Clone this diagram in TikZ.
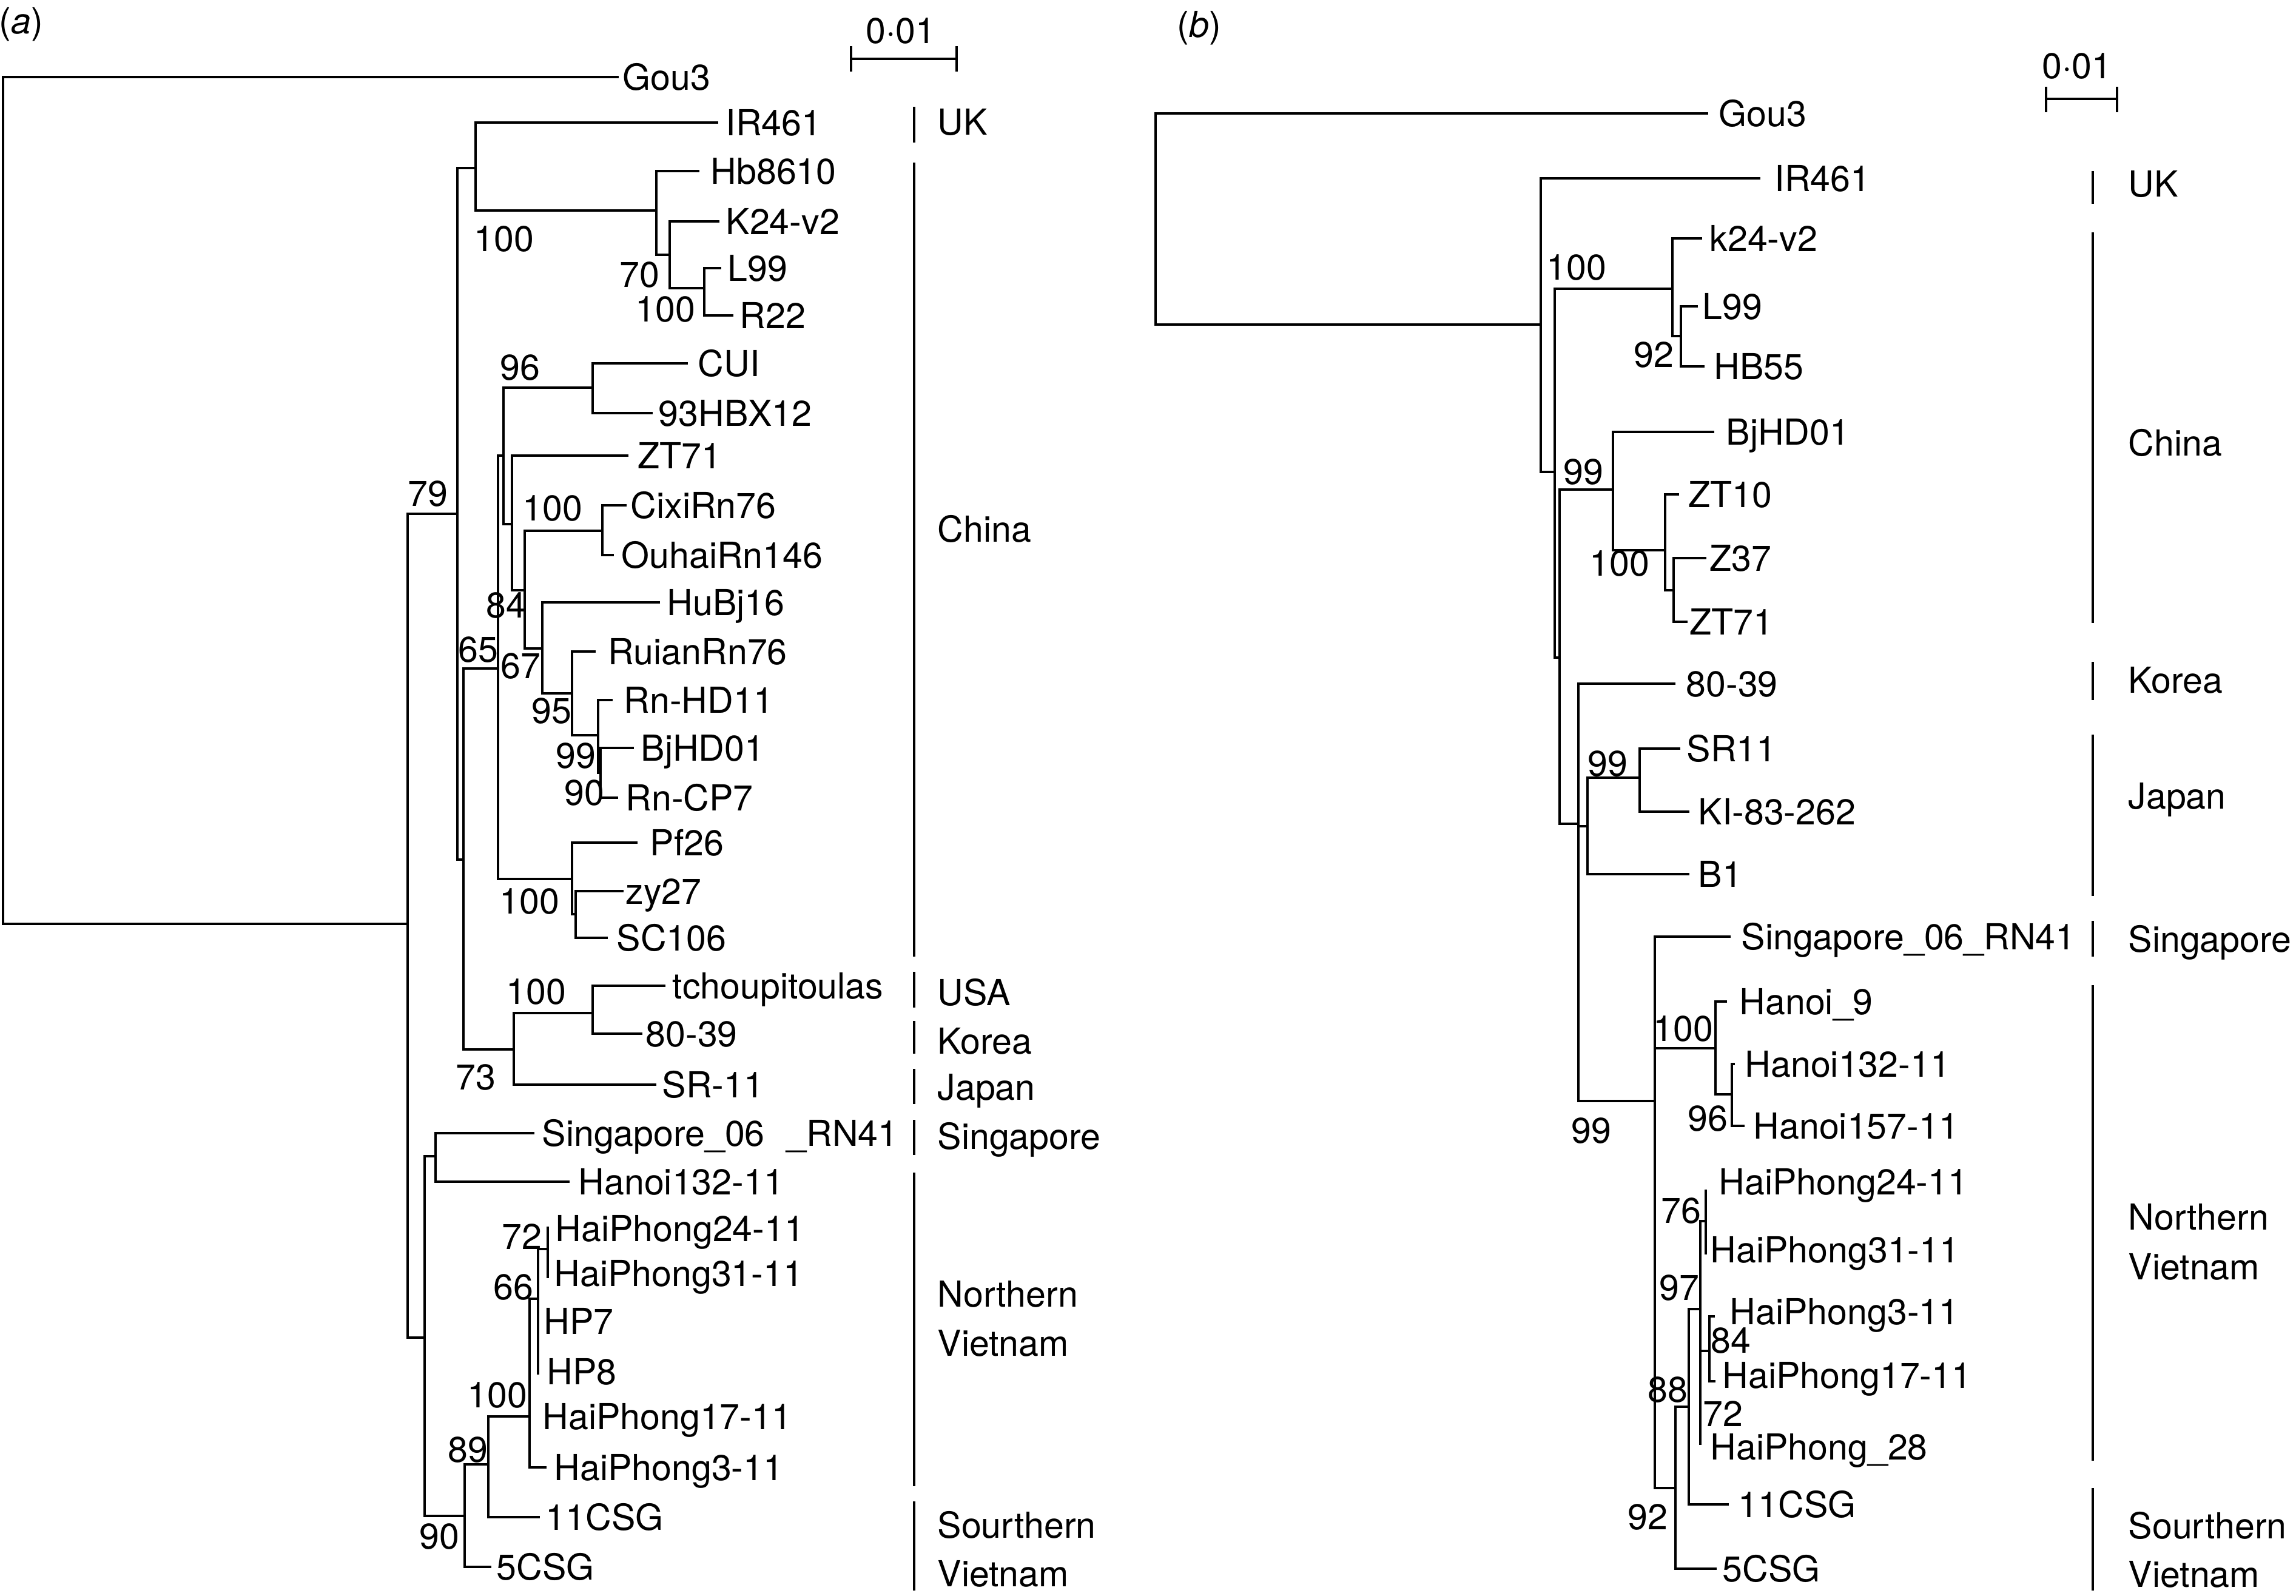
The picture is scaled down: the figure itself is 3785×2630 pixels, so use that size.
\documentclass[tikz,border=0pt]{standalone}
\usepackage{fontspec}
\setmainfont{TeX Gyre Heros}
\usepackage{tikz}

\begin{document}
\begin{tikzpicture}[x=0.01cm,y=-0.01cm,
    every node/.style={font=\fontsize{16.8}{20}\selectfont},
    br/.style={line width=1pt},
    bar/.style={line width=1.2pt},
    leaf/.style={anchor=base west,inner sep=0pt,yshift=-0.21cm},
    boot/.style={anchor=base,inner sep=0pt,yshift=-0.21cm}]
    \useasboundingbox (0,0) rectangle (3785,2630);
    \node[inner sep=0pt] (atitle) at (35,40) {(\textit{a})};
    \node[inner sep=0pt] (btitle) at (1977,46) {(\textit{b})};
    \draw[br] (1020,127) -| (5,1523) -- (672,1523);
    \draw[br] (754,847) -| (672,2205) -- (700,2205);
    \draw[br] (784,277) -| (754,1417) -- (764,1417);
    \draw[br] (1184,202) -| (784,347) -- (1082,347);
    \draw[br] (1153,282) -| (1082,420) -- (1104,420);
    \draw[br] (1186,365) -| (1104,475) -- (1161,475);
    \draw[br] (1189,442) -| (1161,520) -- (1209,520);
    \draw[br] (821,1102) -| (764,1730) -- (847,1730);
    \draw[br] (830,751) -| (821,1449) -- (943,1449);
    \draw[br] (977,639) -| (830,864) -- (844,864);
    \draw[br] (1134,599) -| (977,681) -- (1076,681);
    \draw[br] (1036,751) -| (844,973) -- (865,973);
    \draw[br] (993,875) -| (865,1069) -- (894,1069);
    \draw[br] (1033,833) -| (993,915) -- (1012,915);
    \draw[br] (1088,993) -| (894,1143) -- (943,1143);
    \draw[br] (982,1074) -| (943,1212) -- (986,1212);
    \draw[br] (1010,1154) -| (986,1274) -- (990,1274);
    \draw[br] (1045,1233) -| (990,1315) -- (1019,1315);
    \draw[br] (1051,1389) -| (943,1507) -- (949,1507);
    \draw[br] (1028,1469) -| (949,1546) -- (1002,1546);
    \draw[br] (977,1670) -| (847,1788) -- (1082,1788);
    \draw[br] (1097,1625) -| (977,1704) -- (1059,1704);
    \draw[br] (718,1906) -| (700,2499) -- (766,2499);
    \draw[br] (881,1868) -| (718,1948) -- (939,1948);
    \draw[br] (805,2414) -| (766,2583) -- (810,2583);
    \draw[br] (873,2335) -| (805,2501) -- (890,2501);
    \draw[br] (887,2141) -| (873,2419) -- (901,2419);
    \draw[br] (903,2059) -| (887,2266);
    \draw[br] (903,2022) -- (903,2107);
    \node[leaf] (aGou) at (1026,127) {Gou3};
    \node[leaf] (aIR) at (1196,202) {IR461};
    \node[leaf] (aHb) at (1171,282) {Hb8610};
    \node[leaf] (aK24) at (1196,365) {K24-v2};
    \node[leaf] (aL99) at (1199,442) {L99};
    \node[leaf] (aR22) at (1219,520) {R22};
    \node[leaf] (aCUI) at (1150,599) {CUI};
    \node[leaf] (aHBX) at (1085,681) {93HBX12};
    \node[leaf] (aZT) at (1051,751) {ZT71};
    \node[leaf] (aCixi) at (1039,833) {CixiRn76};
    \node[leaf] (aOuhai) at (1024,915) {OuhaiRn146};
    \node[leaf] (aHuBj) at (1099,993) {HuBj16};
    \node[leaf] (aRuian) at (1002,1074) {RuianRn76};
    \node[leaf] (aRnHD) at (1028,1154) {Rn-HD11};
    \node[leaf] (aBjHD) at (1056,1233) {BjHD01};
    \node[leaf] (aRnCP) at (1031,1315) {Rn-CP7};
    \node[leaf] (aPf) at (1071,1389) {Pf26};
    \node[leaf] (azy) at (1031,1469) {zy27};
    \node[leaf] (aSC) at (1016,1546) {SC106};
    \node[leaf] (atch) at (1108,1625) {tchoupitoulas};
    \node[leaf] (a8039) at (1064,1704) {80-39};
    \node[leaf] (aSR) at (1091,1788) {SR-11};
    \node[leaf] (aSing) at (893,1868) {Singapore\_06\hspace{0.36cm}\_RN41};
    \node[leaf] (aHanoi) at (953,1948) {Hanoi132-11};
    \node[leaf] (aHP24) at (915,2025) {HaiPhong24-11};
    \node[leaf] (aHP31) at (913,2099) {HaiPhong31-11};
    \node[leaf] (aHP7) at (896,2178) {HP7};
    \node[leaf] (aHP8) at (901,2261) {HP8};
    \node[leaf] (aHP17) at (894,2335) {HaiPhong17-11};
    \node[leaf] (aHP3) at (913,2419) {HaiPhong3-11};
    \node[leaf] (a11C) at (899,2501) {11CSG};
    \node[leaf] (a5C) at (818,2583) {5CSG};
    \node[boot] (aba) at (831,393) {100};
    \node[boot] (abb) at (1054,452) {70};
    \node[boot] (abc) at (1097,509) {100};
    \node[boot] (abd) at (857,605) {96};
    \node[boot] (abe) at (705,813) {79};
    \node[boot] (abf) at (911,837) {100};
    \node[boot] (abg) at (834,997) {84};
    \node[boot] (abh) at (788,1070) {65};
    \node[boot] (abi) at (858,1097) {67};
    \node[boot] (abj) at (909,1171) {95};
    \node[boot] (abk) at (949,1245) {99};
    \node[boot] (abl) at (963,1306) {90};
    \node[boot] (abm) at (873,1485) {100};
    \node[boot] (abn) at (884,1634) {100};
    \node[boot] (abo) at (784,1775) {73};
    \node[boot] (abp) at (860,2038) {72};
    \node[boot] (abq) at (846,2121) {66};
    \node[boot] (abr) at (820,2299) {100};
    \node[boot] (abs) at (771,2389) {89};
    \node[boot] (abt) at (724,2532) {90};
    \draw[br] (1403,97) -- (1577,97);
    \draw[br] (1403,76) -- (1403,118);
    \draw[br] (1577,76) -- (1577,118);
    \node[inner sep=0pt] (ascale) at (1485,51) {0·01};
    \draw[bar] (1507,176) -- (1507,235);
    \draw[bar] (1507,268) -- (1507,1577);
    \draw[bar] (1507,1602) -- (1507,1661);
    \draw[bar] (1507,1683) -- (1507,1737);
    \draw[bar] (1507,1762) -- (1507,1820);
    \draw[bar] (1507,1846) -- (1507,1904);
    \draw[bar] (1507,1933) -- (1507,2450);
    \draw[bar] (1507,2475) -- (1507,2622);
    \node[leaf] (aUK) at (1545,201) {UK};
    \node[leaf] (aChina) at (1545,872) {China};
    \node[leaf] (aUSA) at (1545,1636) {USA};
    \node[leaf] (aKorea) at (1545,1716) {Korea};
    \node[leaf] (aJapan) at (1545,1792) {Japan};
    \node[leaf] (aSingc) at (1545,1873) {Singapore};
    \node[leaf] (aNorth) at (1545,2133) {Northern};
    \node[leaf] (aNorthV) at (1545,2214) {Vietnam};
    \node[leaf] (aSouth) at (1545,2514) {Sourthern};
    \node[leaf] (aSouthV) at (1545,2594) {Vietnam};
    \draw[br] (2816,187) -| (1905,535) -- (2540,535);
    \draw[br] (2902,294) -| (2540,778) -- (2563,778);
    \draw[br] (2757,476) -| (2563,1084) -- (2571,1084);
    \draw[br] (2806,393) -| (2757,554) -- (2771,554);
    \draw[br] (2799,505) -| (2771,604) -- (2810,604);
    \draw[br] (2659,807) -| (2571,1358) -- (2602,1358);
    \draw[br] (2826,712) -| (2659,907) -- (2745,907);
    \draw[br] (2768,815) -| (2745,973) -- (2759,973);
    \draw[br] (2813,920) -| (2759,1025) -- (2782,1025);
    \draw[br] (2762,1127) -| (2602,1815) -- (2728,1815);
    \draw[br] (2602,1362) -- (2617,1362);
    \draw[br] (2703,1282) -| (2617,1441) -- (2785,1441);
    \draw[br] (2770,1234) -| (2703,1338) -- (2785,1338);
    \draw[br] (2853,1544) -| (2728,2453) -- (2762,2453);
    \draw[br] (2728,1728) -- (2828,1728);
    \draw[br] (2847,1651) -| (2828,1804) -- (2855,1804);
    \draw[br] (2860,1754) -| (2855,1856) -- (2876,1856);
    \draw[br] (2784,2319) -| (2762,2586) -- (2830,2586);
    \draw[br] (2803,2158) -| (2784,2480) -- (2850,2480);
    \draw[br] (2812,2013) -| (2803,2382);
    \draw[br] (2803,2227) -- (2818,2227);
    \draw[br] (2812,1961) -- (2812,2068);
    \draw[br] (2827,2170) -| (2818,2277) -- (2828,2277);
    \node[leaf] (bGou) at (2833,187) {Gou3};
    \node[leaf] (bIR) at (2925,294) {IR461};
    \node[leaf] (bk24) at (2818,393) {k24-v2};
    \node[leaf] (bL99) at (2806,505) {L99};
    \node[leaf] (bHB) at (2825,604) {HB55};
    \node[leaf] (bBjHD) at (2845,712) {BjHD01};
    \node[leaf] (bZT10) at (2783,815) {ZT10};
    \node[leaf] (bZ37) at (2818,920) {Z37};
    \node[leaf] (bZT71) at (2785,1025) {ZT71};
    \node[leaf] (b8039) at (2779,1127) {80-39};
    \node[leaf] (bSR) at (2780,1234) {SR11};
    \node[leaf] (bKI) at (2799,1338) {KI-83-262};
    \node[leaf] (bB1) at (2799,1441) {B1};
    \node[leaf] (bSing) at (2870,1544) {Singapore\_06\_RN41};
    \node[leaf] (bH9) at (2867,1651) {Hanoi\_9};
    \node[leaf] (bH132) at (2876,1754) {Hanoi132-11};
    \node[leaf] (bH157) at (2890,1856) {Hanoi157-11};
    \node[leaf] (bHP24) at (2833,1948) {HaiPhong24-11};
    \node[leaf] (bHP31) at (2819,2060) {HaiPhong31-11};
    \node[leaf] (bHP3) at (2851,2162) {HaiPhong3-11};
    \node[leaf] (bHP17) at (2839,2267) {HaiPhong17-11};
    \node[leaf] (bHP28) at (2819,2385) {HaiPhong\_28};
    \node[leaf] (b11C) at (2865,2480) {11CSG};
    \node[leaf] (b5C) at (2839,2586) {5CSG};
    \node[boot] (bba) at (2599,440) {100};
    \node[boot] (bbb) at (2726,584) {92};
    \node[boot] (bbc) at (2610,777) {99};
    \node[boot] (bbd) at (2670,928) {100};
    \node[boot] (bbe) at (2650,1258) {99};
    \node[boot] (bbf) at (2775,1695) {100};
    \node[boot] (bbg) at (2815,1843) {96};
    \node[boot] (bbh) at (2623,1863) {99};
    \node[boot] (bbi) at (2771,1995) {76};
    \node[boot] (bbj) at (2768,2122) {97};
    \node[boot] (bbk) at (2853,2209) {84};
    \node[boot] (bbl) at (2749,2290) {88};
    \node[boot] (bbm) at (2840,2330) {72};
    \node[boot] (bbn) at (2716,2500) {92};
    \draw[br] (3373,163) -- (3490,163);
    \draw[br] (3373,143) -- (3373,185);
    \draw[br] (3490,143) -- (3490,185);
    \node[inner sep=0pt] (bscale) at (3424,109) {0·01};
    \draw[bar] (3450,282) -- (3450,336);
    \draw[bar] (3450,383) -- (3450,1027);
    \draw[bar] (3450,1091) -- (3450,1154);
    \draw[bar] (3450,1211) -- (3450,1477);
    \draw[bar] (3450,1518) -- (3450,1577);
    \draw[bar] (3450,1624) -- (3450,2408);
    \draw[bar] (3450,2453) -- (3450,2622);
    \node[leaf] (bUK) at (3508,303) {UK};
    \node[leaf] (bChina) at (3508,730) {China};
    \node[leaf] (bKorea) at (3508,1121) {Korea};
    \node[leaf] (bJapan) at (3508,1312) {Japan};
    \node[leaf] (bSingc) at (3508,1548) {Singapore};
    \node[leaf] (bNorth) at (3508,2006) {Northern};
    \node[leaf] (bNorthV) at (3508,2088) {Vietnam};
    \node[leaf] (bSouth) at (3508,2515) {Sourthern};
    \node[leaf] (bSouthV) at (3508,2595) {Vietnam};
\end{tikzpicture}
\end{document}
